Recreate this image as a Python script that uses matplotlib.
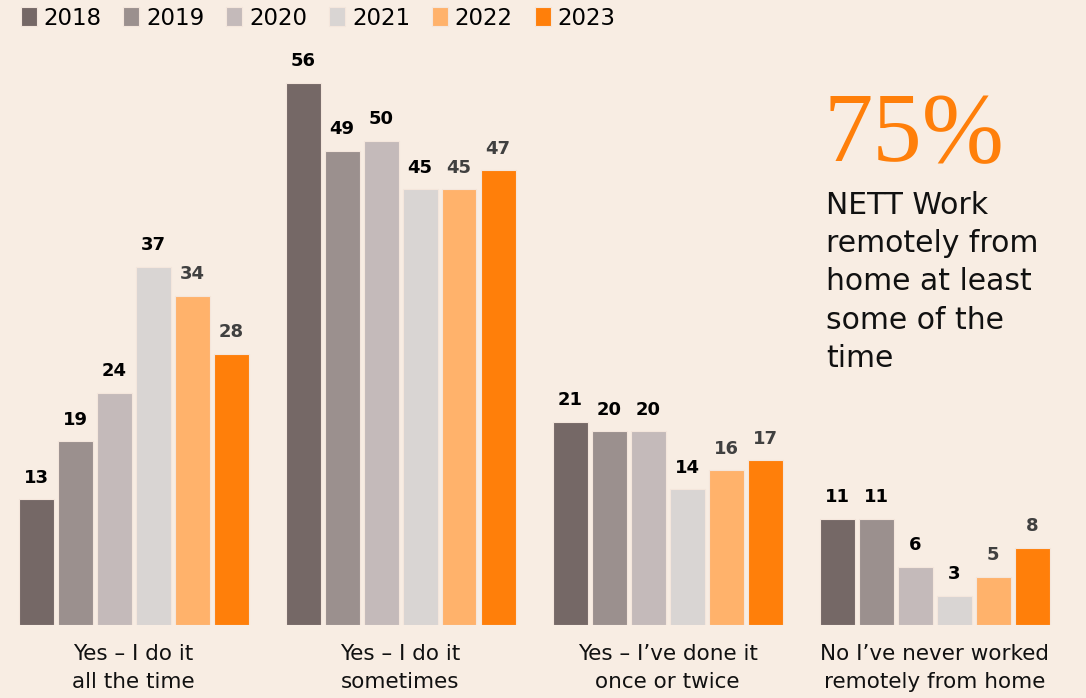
import matplotlib
matplotlib.use("Agg")
import matplotlib.pyplot as plt
import numpy as np

categories = ["Yes – I do it\nall the time", "Yes – I do it\nsometimes",
              "Yes – I’ve done it\nonce or twice", "No I’ve never worked\nremotely from home"]
years = ["2018", "2019", "2020", "2021", "2022", "2023"]
values = {
    "2018": [13, 56, 21, 11],
    "2019": [19, 49, 20, 11],
    "2020": [24, 50, 20, 6],
    "2021": [37, 45, 14, 3],
    "2022": [34, 45, 16, 5],
    "2023": [28, 47, 17, 8],
}
colors = ["#756866", "#9b908e", "#c4baba", "#d9d5d3", "#ffb26b", "#ff7f0a"]
label_colors = ["#000000", "#000000", "#000000", "#000000", "#404040", "#404040"]
bg = "#f8ede3"

plt.rcParams["font.family"] = ["DejaVu Sans"]

fig = plt.figure(figsize=(10.86, 6.98), dpi=100, facecolor=bg)
ax = fig.add_axes([0.0, (698 - 625) / 698, 1068 / 1086, 580.8 / 698])
ax.set_facecolor(bg)

x = np.arange(len(categories))
step = 39 / 267
width = 35 / 267
for i, yr in enumerate(years):
    pos = x + (i - 2.5) * step
    bars = ax.bar(pos, values[yr], width=width, color=colors[i],
                  edgecolor="#f4e6dc", linewidth=0.8, label=yr)
    for b, v in zip(bars, values[yr]):
        ax.annotate(str(v), (b.get_x() + b.get_width() / 2, v),
                    xytext=(0, 9), textcoords="offset points",
                    ha="center", va="bottom", fontsize=13, fontweight="bold",
                    color=label_colors[i])

ax.set_xlim(-0.5, 3.5)
ax.set_ylim(0, 60)
ax.set_xticks(x)
ax.set_xticklabels(categories, fontsize=15.5, color="#111111", linespacing=1.48)
ax.tick_params(axis="x", length=0, pad=14)
ax.set_yticks([])
for s in ax.spines.values():
    s.set_visible(False)

leg = fig.legend(loc="upper left", bbox_to_anchor=(0.0, 1.02), ncol=6,
                 frameon=False, fontsize=16.5, handlelength=0.7, handleheight=0.9,
                 handletextpad=0.3, columnspacing=0.95)

fig.text(824 / 1086, 1 - 161 / 698, "75%", fontsize=71, color="#ff7f0a",
         family="Liberation Serif", ha="left", va="baseline")
fig.text(826 / 1086, 1 - 191 / 698,
         "NETT Work\nremotely from\nhome at least\nsome of the\ntime",
         fontsize=21.5, color="#111111", ha="left", va="top", linespacing=1.4)

fig.savefig("out.png", dpi=100, facecolor=bg)
